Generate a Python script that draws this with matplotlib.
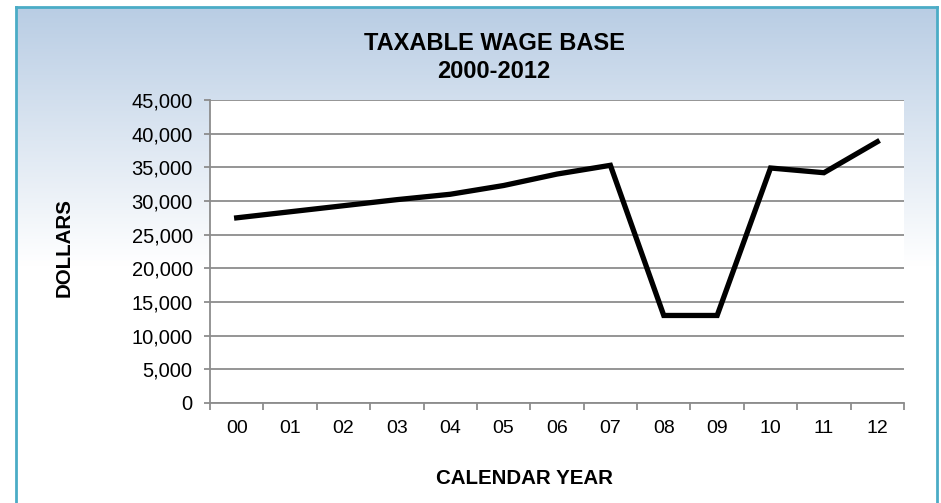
import numpy as np
import matplotlib.pyplot as plt

plt.rcParams['font.family'] = ['Liberation Sans', 'DejaVu Sans']

# --- Data ---
years = ["00", "01", "02", "03", "04", "05", "06", "07", "08", "09", "10", "11", "12"]
wage_base = [27500, 28400, 29300, 30200, 31000, 32300, 34000, 35300,
             13000, 13000, 34900, 34200, 38800]

W, H = 941, 503
fig = plt.figure(figsize=(W / 100, H / 100), dpi=100)

# --- Framed background with a vertical blue-to-white gradient ---
bg = fig.add_axes([16 / W, 0, (937 - 16) / W, (H - 7) / H])
grad = np.linspace(0, 1, 256).reshape(-1, 1)
top = np.array([0.725, 0.804, 0.894])
white = np.array([1.0, 1.0, 1.0])
mix = np.clip(grad / 0.52, 0, 1)
rgb = top + (white - top) * mix
bg.imshow(rgb[:, None, :].repeat(2, axis=1), aspect='auto', extent=[0, 1, 0, 1],
          origin='upper')
bg.set_xticks([])
bg.set_yticks([])
for side in ['left', 'right', 'top']:
    bg.spines[side].set_color('#4bacc6')
    bg.spines[side].set_linewidth(2)
bg.spines['bottom'].set_visible(False)

# --- Plot area ---
ax = fig.add_axes([210 / W, (H - 403) / H, (904 - 210) / W, (403 - 100) / H])
ax.set_facecolor('white')
x = np.arange(len(years))
ax.plot(x, wage_base, color='black', lw=3.8, solid_joinstyle='miter', zorder=3)

ax.set_xlim(-0.5, len(years) - 0.5)
ax.set_ylim(0, 45000)
ax.set_yticks(np.arange(0, 45001, 5000))
ax.set_yticklabels([f"{v:,}" for v in range(0, 45001, 5000)])
ax.yaxis.grid(True, color='#8c8c8c', lw=1.3)
ax.set_axisbelow(True)

ax.set_xticks(x)
ax.set_xticklabels(years)
ax.set_xticks(np.arange(-0.5, len(years)), minor=True)
ax.tick_params(axis='x', which='major', length=0, pad=12, labelsize=14)
ax.tick_params(axis='x', which='minor', length=5, color='#8c8c8c', width=1.3)
ax.tick_params(axis='y', length=4.5, color='#8c8c8c', width=1.3, pad=8, labelsize=14.5)

for side in ['top', 'right']:
    ax.spines[side].set_visible(False)
for side in ['left', 'bottom']:
    ax.spines[side].set_color('#8c8c8c')
    ax.spines[side].set_linewidth(1.3)

# --- Titles ---
fig.text(494 / W, 1 - 44 / H, "TAXABLE WAGE BASE", ha='center', va='center',
         fontsize=17, fontweight='bold')
fig.text(494 / W, 1 - 72 / H, "2000-2012", ha='center', va='center',
         fontsize=17, fontweight='bold')
fig.text(524 / W, 1 - 479 / H, "CALENDAR YEAR", ha='center', va='center',
         fontsize=14.8, fontweight='bold')
fig.text(64 / W, 1 - 248 / H, "DOLLARS", ha='center', va='center',
         rotation=90, fontsize=14.8, fontweight='bold')

fig.savefig("out.png", dpi=100)
